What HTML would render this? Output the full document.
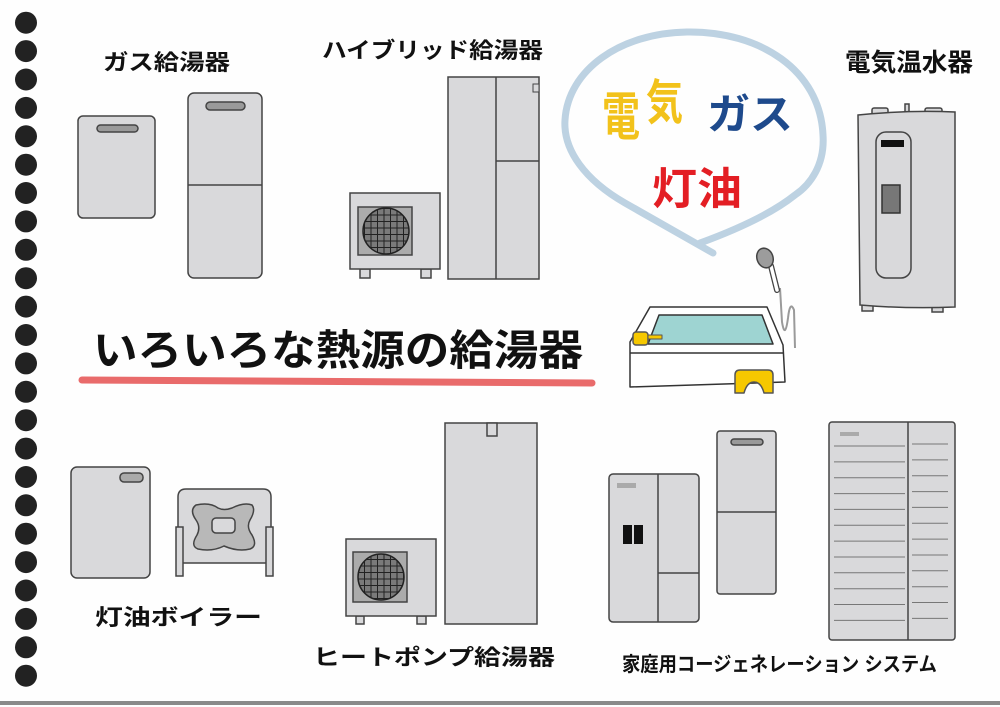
<!DOCTYPE html>
<html><head><meta charset="utf-8"><style>
html,body{margin:0;padding:0;background:#fff;}
svg{display:block;}
text{font-family:"Liberation Sans","Noto Sans CJK JP",sans-serif;font-weight:700;}
</style></head><body>
<svg width="1000" height="707" viewBox="0 0 1000 707" xmlns="http://www.w3.org/2000/svg">
<defs>
<pattern id="grid" width="6.5" height="6.5" patternUnits="userSpaceOnUse">
<rect width="6.5" height="6.5" fill="#7a7a7a"/>
<path d="M0,0.5H6.5M0.5,0V6.5" stroke="#222" stroke-width="1"/>
</pattern>
</defs>
<rect width="1000" height="707" fill="#fefefe"/>

<!-- binder dots -->
<g fill="#222">
<circle cx="26" cy="22.7" r="11"/><circle cx="26" cy="51.1" r="11"/><circle cx="26" cy="79.5" r="11"/><circle cx="26" cy="107.9" r="11"/>
<circle cx="26" cy="136.3" r="11"/><circle cx="26" cy="164.7" r="11"/><circle cx="26" cy="193" r="11"/><circle cx="26" cy="221.4" r="11"/>
<circle cx="26" cy="249.8" r="11"/><circle cx="26" cy="278.2" r="11"/><circle cx="26" cy="306.6" r="11"/><circle cx="26" cy="335" r="11"/>
<circle cx="26" cy="363.4" r="11"/><circle cx="26" cy="391.8" r="11"/><circle cx="26" cy="420.2" r="11"/><circle cx="26" cy="448.6" r="11"/>
<circle cx="26" cy="477" r="11"/><circle cx="26" cy="505.3" r="11"/><circle cx="26" cy="533.7" r="11"/><circle cx="26" cy="562.1" r="11"/>
<circle cx="26" cy="590.5" r="11"/><circle cx="26" cy="618.9" r="11"/><circle cx="26" cy="647.3" r="11"/><circle cx="26" cy="675.7" r="11"/>
</g>
<rect x="0" y="701" width="1000" height="4" fill="#8a8a8a"/>

<!-- Gas -->
<text x="103" y="70" font-size="22" textLength="127" lengthAdjust="spacingAndGlyphs" fill="#111">ガス給湯器</text>
<g fill="#d9d9db" stroke="#444" stroke-width="1.5">
<rect x="78" y="116" width="77" height="102" rx="5"/>
<rect x="97" y="125" width="41" height="7" rx="3.5" fill="#9a9a9a"/>
<rect x="188" y="93" width="74" height="185" rx="6"/>
<line x1="188" y1="185" x2="262" y2="185"/>
<rect x="206" y="102" width="39" height="8" rx="4" fill="#9a9a9a"/>
</g>

<!-- Hybrid -->
<text x="322" y="58" font-size="22" textLength="221" lengthAdjust="spacingAndGlyphs" fill="#111">ハイブリッド給湯器</text>
<g fill="#d9d9db" stroke="#444" stroke-width="1.5">
<rect x="360" y="269" width="10" height="9"/>
<rect x="421" y="269" width="10" height="9"/>
<rect x="350" y="193" width="90" height="76"/>
<rect x="358" y="207" width="54" height="48" fill="#ababab"/>
<circle cx="386" cy="231" r="23" fill="url(#grid)" stroke="#222"/>
<rect x="448" y="77" width="91" height="202"/>
<line x1="496" y1="77" x2="496" y2="279"/>
<line x1="496" y1="161" x2="539" y2="161"/>
<rect x="533" y="84" width="6" height="8" stroke-width="1"/>
</g>

<!-- Speech bubble -->
<path d="M713,253 L625,203 C585,180 563,150 565,120 C568,70 620,33 687,32 C760,31 820,70 823,135 C825,165 810,185 795,195 C770,215 730,232 700,243" fill="none" stroke="#bdd2e2" stroke-width="7" stroke-linecap="round" stroke-linejoin="round"/>
<text x="602" y="135" font-size="52" textLength="38" lengthAdjust="spacingAndGlyphs" fill="#f2c21b">電</text>
<text x="646" y="119" font-size="48" textLength="37" lengthAdjust="spacingAndGlyphs" fill="#f2c21b">気</text>
<text x="707" y="129" font-size="42" textLength="86" lengthAdjust="spacingAndGlyphs" fill="#1e4a8c">ガス</text>
<text x="652" y="204" font-size="44" textLength="90" lengthAdjust="spacingAndGlyphs" fill="#e31e24">灯油</text>

<!-- Electric water heater -->
<text x="845" y="71" font-size="25" textLength="128" lengthAdjust="spacingAndGlyphs" fill="#111">電気温水器</text>
<g fill="#d9d9db" stroke="#444" stroke-width="1.5">
<rect x="872" y="108" width="16" height="7" rx="2"/>
<rect x="925" y="108" width="17" height="7" rx="2"/>
<rect x="905" y="104" width="4" height="9"/>
<rect x="862" y="302" width="11" height="9"/>
<rect x="932" y="303" width="11" height="9"/>
<path d="M858,115 Q906,110 955,112 L955,307 Q906,309 860,305 Z"/>
<rect x="876" y="132" width="35" height="146" rx="10"/>
<rect x="881" y="140" width="23" height="7" fill="#111" stroke="none"/>
<rect x="882" y="185" width="18" height="28" fill="#777" stroke="#333"/>
</g>

<!-- Title -->
<text x="93" y="365" font-size="42" textLength="490" lengthAdjust="spacingAndGlyphs" fill="#111">いろいろな熱源の給湯器</text>
<path d="M82,380 L592,383" stroke="#e96b6b" stroke-width="7" stroke-linecap="round" fill="none"/>

<!-- Bath -->
<g stroke="#333" stroke-width="1.5" stroke-linejoin="round">
<path d="M650,307 L767,307 L783,345 L785,382 L630,387 L630,342 Z" fill="#fff"/>
<polygon points="659,315 762,315 773,344 648,344" fill="#9ed4d2"/>
<line x1="630" y1="353" x2="784" y2="353"/>
<rect x="633" y="332" width="15" height="13" rx="3" fill="#f6c800" stroke="#555"/>
<rect x="648" y="335" width="14" height="4" fill="#f6c800" stroke="#555" stroke-width="1"/>
<path d="M735,393 L735,375 Q735,370 740,370 L768,370 Q773,370 773,375 L773,393 L764,393 Q761,382 754,382 Q747,382 744,393 Z" fill="#f6c800" stroke="#555"/>
</g>
<path d="M780,288 L782,322 Q785,340 788,318 Q790,300 794,310 L795,348" fill="none" stroke="#9a9a9a" stroke-width="2"/>
<path d="M771,266 L777,290" stroke="#444" stroke-width="6" stroke-linecap="round"/>
<path d="M771,266 L777,290" stroke="#fff" stroke-width="3.5" stroke-linecap="round"/>
<ellipse cx="765" cy="258" rx="8" ry="10" transform="rotate(-20 765 258)" fill="#9c9c9c" stroke="#444" stroke-width="1.5"/>

<!-- Kerosene boiler -->
<g fill="#d9d9db" stroke="#444" stroke-width="1.5">
<rect x="71" y="467" width="79" height="111" rx="6"/>
<rect x="120" y="473" width="23" height="9" rx="4" fill="#aaa"/>
<path d="M178,563 L178,497 Q178,489 186,489 L263,489 Q271,489 271,497 L271,563 Z"/>
<rect x="176" y="527" width="7" height="49"/>
<rect x="266" y="527" width="7" height="49"/>
<path d="M196,505 Q210,502 218,508 Q224,511 232,508 Q244,502 252,505 Q256,510 250,520 Q246,527 252,535 Q258,546 250,549 Q238,552 224,546 Q212,552 198,549 Q190,546 197,535 Q201,527 196,520 Q189,510 196,505 Z" fill="#b8b8b8"/>
<rect x="212" y="518" width="23" height="15" rx="4"/>
</g>
<text x="95" y="625" font-size="22" textLength="167" lengthAdjust="spacingAndGlyphs" fill="#111">灯油ボイラー</text>

<!-- Heat pump -->
<g fill="#d9d9db" stroke="#444" stroke-width="1.5">
<rect x="445" y="423" width="92" height="201"/>
<rect x="487" y="423" width="10" height="13"/>
<rect x="356" y="616" width="8" height="8"/>
<rect x="417" y="616" width="9" height="8"/>
<rect x="346" y="539" width="90" height="77"/>
<rect x="353" y="552" width="54" height="50" fill="#ababab"/>
<circle cx="381" cy="577" r="23" fill="url(#grid)" stroke="#222"/>
</g>
<text x="313" y="665" font-size="22" textLength="242" lengthAdjust="spacingAndGlyphs" fill="#111">ヒートポンプ給湯器</text>

<!-- Cogeneration -->
<g fill="#d9d9db" stroke="#444" stroke-width="1.5">
<rect x="609" y="474" width="90" height="148" rx="4"/>
<line x1="658" y1="474" x2="658" y2="622"/>
<line x1="658" y1="573" x2="699" y2="573"/>
<rect x="617" y="483" width="19" height="5" fill="#aaa" stroke="none"/>
<rect x="623" y="525" width="9" height="19" fill="#111" stroke="none"/>
<rect x="634" y="525" width="9" height="19" fill="#111" stroke="none"/>
<rect x="717" y="431" width="59" height="163" rx="3"/>
<line x1="717" y1="512" x2="776" y2="512"/>
<rect x="731" y="439" width="32" height="6" rx="3" fill="#999"/>
<rect x="829" y="422" width="126" height="218" rx="3"/>
<line x1="908" y1="422" x2="908" y2="640"/>
<rect x="840" y="432" width="19" height="4" fill="#aaa" stroke="none"/>
</g>
<path d="M834,446H905M834,461.9H905M834,477.7H905M834,493.6H905M834,509.4H905M834,525.3H905M834,541.1H905M834,557H905M834,572.8H905M834,588.7H905M834,604.5H905M834,620.4H905M912,444H948M912,459.9H948M912,475.7H948M912,491.6H948M912,507.4H948M912,523.3H948M912,539.1H948M912,555H948M912,570.8H948M912,586.7H948M912,602.5H948M912,618.4H948" stroke="#777" stroke-width="1"/>
<text x="622" y="671" font-size="20" textLength="315" lengthAdjust="spacingAndGlyphs" fill="#111">家庭用コージェネレーション システム</text>
</svg>
</body></html>
